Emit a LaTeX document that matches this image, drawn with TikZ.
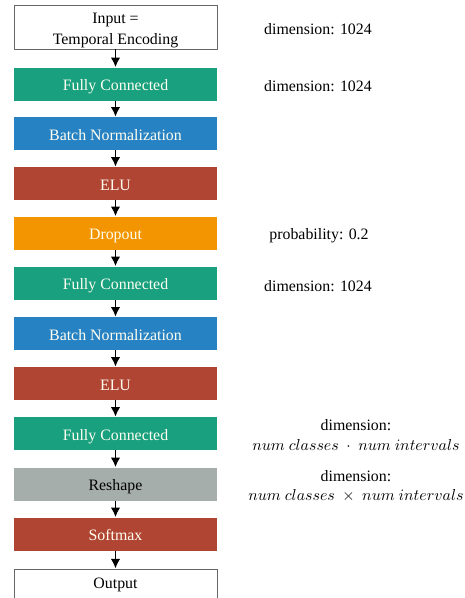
\documentclass[tikz,border=0pt]{standalone}
\usepackage{fontspec}
\setmainfont{Liberation Serif}
\usepackage{xcolor}
\usepackage{tikz}
\usetikzlibrary{arrows.meta,positioning}

\definecolor{fcgreen}{HTML}{18A07F}
\definecolor{bnblue}{HTML}{2782C3}
\definecolor{elured}{HTML}{B04534}
\definecolor{droporange}{HTML}{F39500}
\definecolor{reshgray}{HTML}{A6AEAC}

\tikzset{
    layer/.style={minimum width=127.9pt, minimum height=20.8pt, inner sep=0pt, text height=10.4pt, text depth=2pt, text=white!94!yellow, font=\fontsize{10}{12}\selectfont},
    iobox/.style={layer, draw=black!60, line width=0.6pt, fill=white, text=black, align=center},
    note/.style={font=\fontsize{10}{12}\selectfont, align=center},
    flow/.style={-{Latex[length=6pt,width=6pt]}, line width=1.2pt, black}
}

\begin{document}
\begin{tikzpicture}[x=0.63pt, y=-0.63pt]
    \useasboundingbox (0,0) rectangle (465,598);

    % Layers
    \node[iobox, minimum height=27.7pt, text height=24.8pt, text depth=2.9pt] (in) at (115.5,27) {Input =\\[1pt]Temporal Encoding};
    \node[layer, fill=fcgreen] (fc1) at (115.5,84) {Fully Connected};
    \node[layer, fill=bnblue] (bn1) at (115.5,133.5) {Batch Normalization};
    \node[layer, fill=elured] (elu1) at (115.5,183.5) {ELU};
    \node[layer, fill=droporange] (drop) at (115.5,233) {Dropout};
    \node[layer, fill=fcgreen] (fc2) at (115.5,283) {Fully Connected};
    \node[layer, fill=bnblue] (bn2) at (115.5,333.5) {Batch Normalization};
    \node[layer, fill=elured] (elu2) at (115.5,383.5) {ELU};
    \node[layer, fill=fcgreen] (fc3) at (115.5,433.5) {Fully Connected};
    \node[layer, fill=reshgray, text=black] (resh) at (115.5,484) {Reshape};
    \node[layer, fill=elured] (soft) at (115.5,534) {Softmax};
    \node[iobox, anchor=north, text height=7.8pt, text depth=4pt] (out) at (115.5,568.5) {Output};

    % Arrows
    \draw[flow] (in) -- (fc1);
    \draw[flow] (fc1) -- (bn1);
    \draw[flow] (bn1) -- (elu1);
    \draw[flow] (elu1) -- (drop);
    \draw[flow] (drop) -- (fc2);
    \draw[flow] (fc2) -- (bn2);
    \draw[flow] (bn2) -- (elu2);
    \draw[flow] (elu2) -- (fc3);
    \draw[flow] (fc3) -- (resh);
    \draw[flow] (resh) -- (soft);
    \draw[flow] (soft) -- (out);

    % Notes
    \node[note] (dimin) at (318,29) {dimension: 1024};
    \node[note] (dimfc1) at (318,86) {dimension: 1024};
    \node[note] (prob) at (319,236) {probability: 0.2};
    \node[note] (dimfc2) at (318,286) {dimension: 1024};
    \node[note] (dimfc3) at (356,435) {dimension:\\$num\ classes\ \cdot\ num\ intervals$};
    \node[note] (dimresh) at (356,486) {dimension:\\$num\ classes\ \times\ num\ intervals$};
\end{tikzpicture}
\end{document}
